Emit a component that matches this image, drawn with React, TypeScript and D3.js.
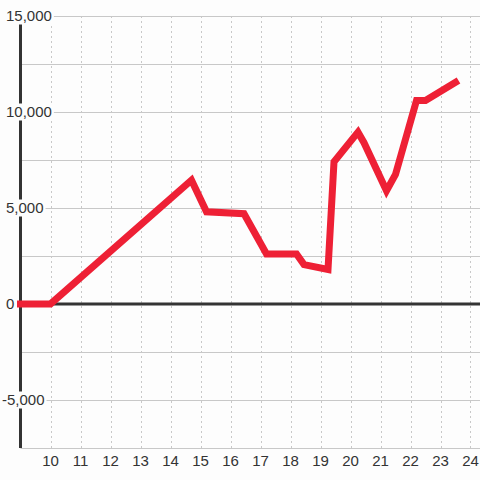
import React from "react";
import * as d3 from "d3";

const xValues = [9, 10, 14.7, 15.2, 16.45, 17.2, 18.2, 18.45, 19.25, 19.45, 20.25, 20.45, 21.2, 21.5, 22.2, 22.5, 23.5];
const yValues = [0, 0, 6450, 4800, 4700, 2600, 2600, 2050, 1800, 7400, 8950, 8400, 5900, 6750, 10600, 10600, 11550];
const xTicks = [10, 11, 12, 13, 14, 15, 16, 17, 18, 19, 20, 21, 22, 23, 24];
const yLabelTicks = [15000, 10000, 5000, 0, -5000];
const yGridTicks = [15000, 12500, 10000, 7500, 5000, 2500, -2500, -5000, -7500];

const W = 480;
const H = 480;

function textWidth(s: string) {
  let w = 0;
  for (const c of s) {
    if (c === ",") w += 4.17;
    else if (c === "-") w += 5;
    else w += 8.34;
  }
  return w;
}

export default function App() {
  const x = d3.scaleLinear().domain([9, 24.3]).range([20.5, 479.5]);
  const y = d3.scaleLinear().domain([-7500, 15000]).range([448, 16]);
  const fmt = (v: number) => d3.format(",")(v).replace("\u2212", "-");
  const data = xValues.map((v, i) => [v, yValues[i]] as [number, number]);
  const line = d3
    .line<[number, number]>()
    .x((d) => x(d[0]))
    .y((d) => y(d[1]));
  const bg = "#fdfdfd";
  const font = "'Liberation Sans', Arial, sans-serif";
  return (
    <svg
      width={W}
      height={H}
      style={{ position: "absolute", left: 0, top: 0, background: bg }}
    >
      <rect x={0} y={0} width={W} height={H} fill={bg} />
      {xTicks.map((t) => (
        <line
          key={"vx" + t}
          x1={Math.round(x(t)) + 0.5}
          x2={Math.round(x(t)) + 0.5}
          y1={y(15000)}
          y2={y(-7500)}
          stroke="#c8c8c8"
          strokeWidth={1}
          strokeDasharray="2,3"
        />
      ))}
      {yGridTicks.map((t) => (
        <line
          key={"hy" + t}
          x1={x(9)}
          x2={W}
          y1={Math.round(y(t)) + 0.5}
          y2={Math.round(y(t)) + 0.5}
          stroke="#c8c8c8"
          strokeWidth={1}
        />
      ))}
      <line x1={x(9)} x2={x(9)} y1={y(15000)} y2={y(-7500)} stroke="#333" strokeWidth={3} />
      <line x1={x(9) - 1.5} x2={W} y1={y(0)} y2={y(0)} stroke="#333" strokeWidth={3} />
      {yLabelTicks.map((t) => {
        const s = fmt(t);
        const tx = t < 0 ? 2 : 6;
        const tw = textWidth(s);
        return (
          <g key={"yl" + t}>
            <rect x={tx - 2} y={y(t) - 8.5} width={tw + 4} height={17} fill={bg} />
            <text
              x={tx}
              y={y(t)}
              dy="0.36em"
              fontFamily={font}
              fontSize={15}
              fill="#333"
            >
              {s}
            </text>
          </g>
        );
      })}
      <path
        d={line(data) || ""}
        fill="none"
        stroke="#ee2035"
        strokeWidth={7}
        strokeLinejoin="miter"
        strokeLinecap="square"
      />
      {xTicks.map((t) => (
        <text
          key={"xl" + t}
          x={x(t)}
          y={466}
          textAnchor="middle"
          fontFamily={font}
          fontSize={15}
          fill="#333"
        >
          {t}
        </text>
      ))}
    </svg>
  );
}
